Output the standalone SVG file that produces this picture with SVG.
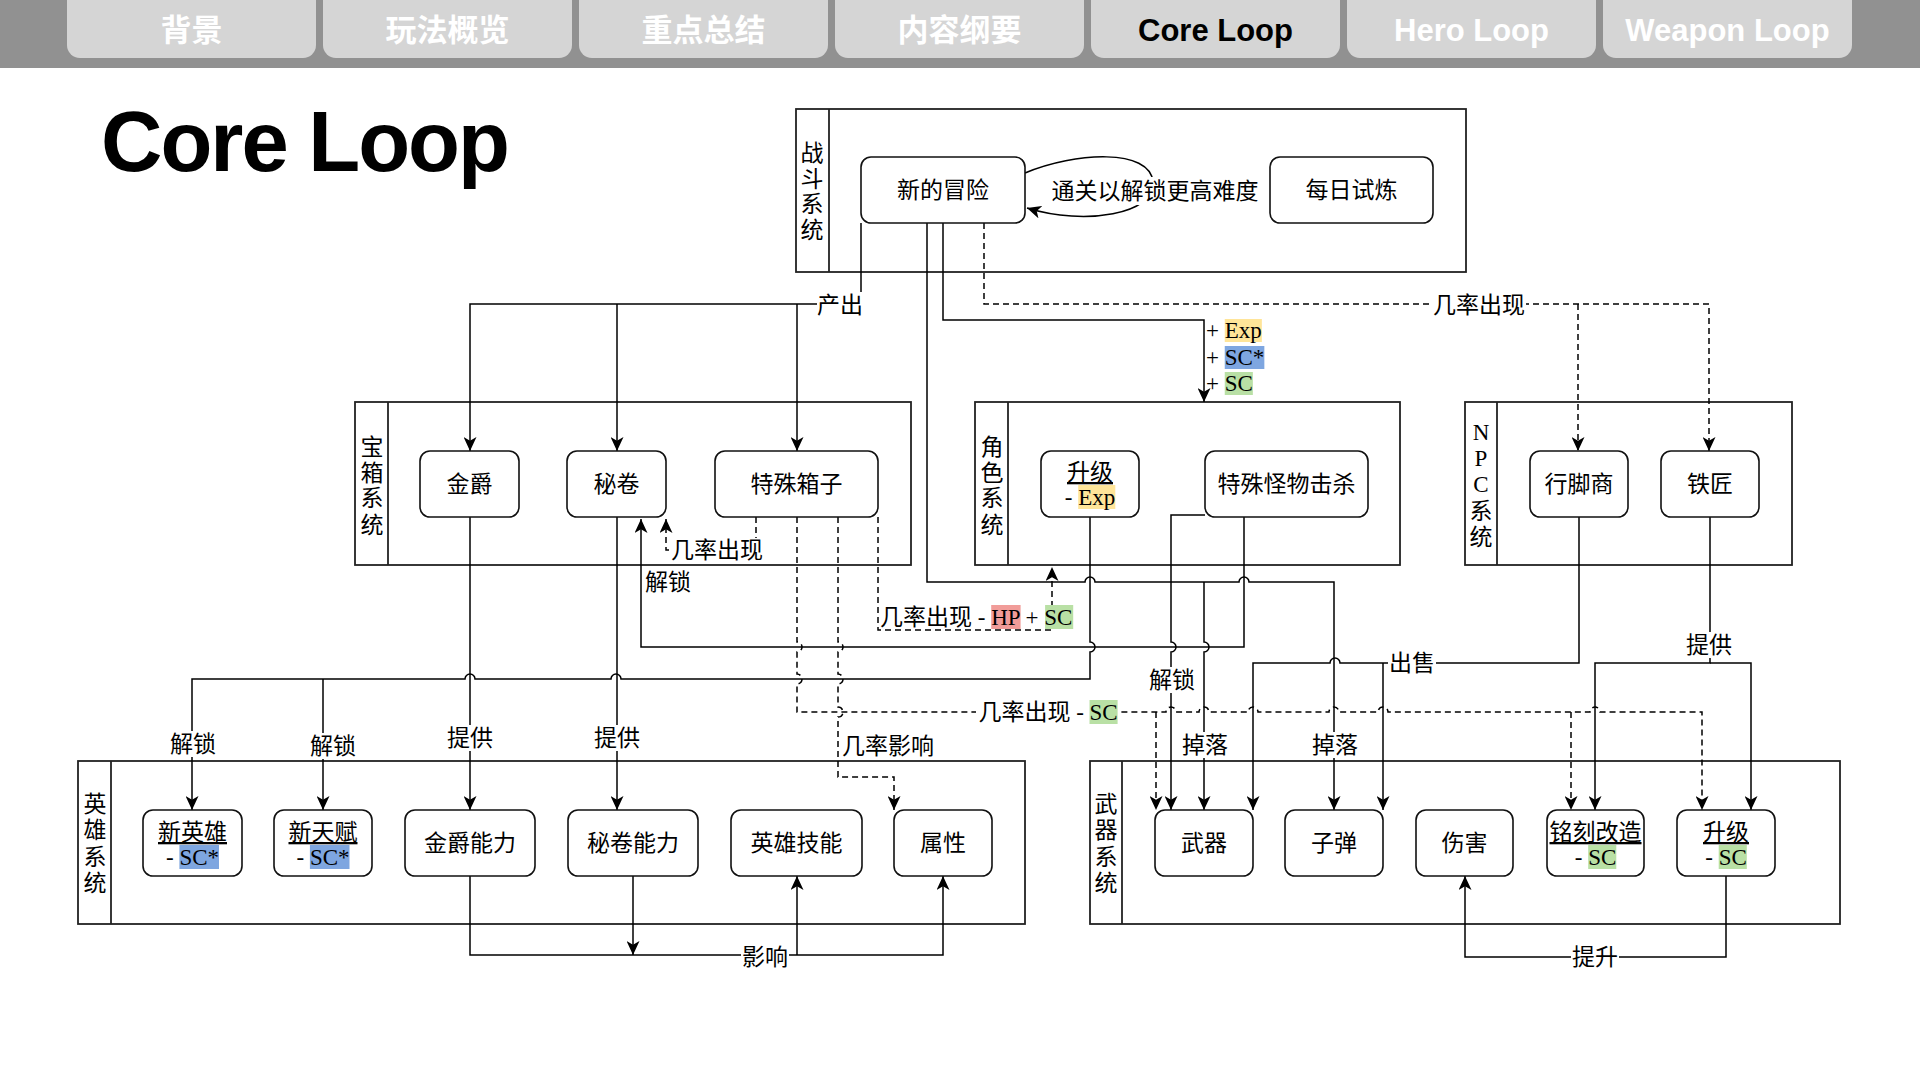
<svg xmlns="http://www.w3.org/2000/svg" width="1920" height="1080" viewBox="0 0 1920 1080">
<style>
.tab{fill:#d5d5d5}
.tt{font-family:"Liberation Sans","Noto Sans CJK SC",sans-serif;font-size:31px;font-weight:bold;fill:#fff;text-anchor:middle}
.tc{font-family:"Noto Sans CJK SC",sans-serif;font-size:31px;font-weight:bold;fill:#fff;text-anchor:middle}
.box{fill:none;stroke:#222;stroke-width:1.8}
.nd{fill:#fff;stroke:#111;stroke-width:1.6}
.e{fill:none;stroke:#000;stroke-width:1.5}
.d{stroke-dasharray:6 4}
.t{font-family:"Liberation Serif","Noto Sans CJK SC",serif;font-size:23px;fill:#000}
.m{text-anchor:middle}
.bg{fill:#fff}
.y{fill:#ffe599}.b{fill:#7ea6e0}.g{fill:#b9e0a5}.r{fill:#f19c99}
</style>
<defs>
<marker id="a" markerUnits="userSpaceOnUse" markerWidth="15" markerHeight="13" refX="14" refY="6.5" orient="auto">
<path d="M0,0 L14,6.5 L0,13 L3.8,6.5 Z" fill="#000"/>
</marker>
</defs>
<rect width="1920" height="1080" fill="#fff"/>
<g id="tabs">
<rect x="0" y="0" width="1920" height="68" fill="#919191"/>
<rect class="tab" x="67" y="-14" width="249" height="72" rx="13"/>
<rect class="tab" x="323" y="-14" width="249" height="72" rx="13"/>
<rect class="tab" x="579" y="-14" width="249" height="72" rx="13"/>
<rect class="tab" x="835" y="-14" width="249" height="72" rx="13"/>
<rect class="tab" x="1091" y="-14" width="249" height="72" rx="13"/>
<rect class="tab" x="1347" y="-14" width="249" height="72" rx="13"/>
<rect class="tab" x="1603" y="-14" width="249" height="72" rx="13"/>
<text class="tc" x="191.5" y="41">背景</text>
<text class="tc" x="447.5" y="41">玩法概览</text>
<text class="tc" x="703.5" y="41">重点总结</text>
<text class="tc" x="959.5" y="41">内容纲要</text>
<text class="tt" x="1215.5" y="41" style="fill:#000">Core Loop</text>
<text class="tt" x="1471.5" y="41">Hero Loop</text>
<text class="tt" x="1727.5" y="41">Weapon Loop</text>
</g>
<text x="101" y="171" font-family="Liberation Sans, sans-serif" font-size="85" font-weight="bold" letter-spacing="-2" fill="#000">Core Loop</text>

<g id="containers">
<g id="sys-battle"><rect class="box" x="796" y="109" width="670" height="163"/><line class="box" x1="829" y1="109" x2="829" y2="272"/>
<text class="t m"><tspan x="812" y="161">战</tspan><tspan x="812" y="187">斗</tspan><tspan x="812" y="212">系</tspan><tspan x="812" y="238">统</tspan></text></g>
<g id="sys-chest"><rect class="box" x="355" y="402" width="556" height="163"/><line class="box" x1="388" y1="402" x2="388" y2="565"/>
<text class="t m"><tspan x="372" y="455">宝</tspan><tspan x="372" y="481">箱</tspan><tspan x="372" y="506">系</tspan><tspan x="372" y="533">统</tspan></text></g>
<g id="sys-role"><rect class="box" x="975" y="402" width="425" height="163"/><line class="box" x1="1008" y1="402" x2="1008" y2="565"/>
<text class="t m"><tspan x="992" y="455">角</tspan><tspan x="992" y="481">色</tspan><tspan x="992" y="506">系</tspan><tspan x="992" y="533">统</tspan></text></g>
<g id="sys-npc"><rect class="box" x="1465" y="402" width="327" height="163"/><line class="box" x1="1497" y1="402" x2="1497" y2="565"/>
<text class="t m"><tspan x="1481" y="440">N</tspan><tspan x="1481" y="466">P</tspan><tspan x="1481" y="492">C</tspan><tspan x="1481" y="519">系</tspan><tspan x="1481" y="545">统</tspan></text></g>
<g id="sys-hero"><rect class="box" x="78" y="761" width="947" height="163"/><line class="box" x1="111" y1="761" x2="111" y2="924"/>
<text class="t m"><tspan x="95" y="812">英</tspan><tspan x="95" y="838">雄</tspan><tspan x="95" y="865">系</tspan><tspan x="95" y="891">统</tspan></text></g>
<g id="sys-weapon"><rect class="box" x="1090" y="761" width="750" height="163"/><line class="box" x1="1122" y1="761" x2="1122" y2="924"/>
<text class="t m"><tspan x="1106" y="812">武</tspan><tspan x="1106" y="838">器</tspan><tspan x="1106" y="865">系</tspan><tspan x="1106" y="891">统</tspan></text></g>
</g>

<g id="connectors">
<path class="e" d="M1025,173 C1075,152 1150,148 1153,182 C1156,214 1085,226 1027,208" marker-end="url(#a)"/>
<path class="e" d="M861,223 V304 H470 V451" marker-end="url(#a)"/>
<path class="e" d="M617,304 V451" marker-end="url(#a)"/>
<path class="e" d="M797,304 V451" marker-end="url(#a)"/>
<path class="e" d="M943,223 V320 H1204 V402" marker-end="url(#a)"/>
<path class="e" d="M927,223 V582 H1085 A5,5 0 0 1 1095,582 H1239 A5,5 0 0 1 1249,582 H1334 V810" marker-end="url(#a)"/>
<path class="e" d="M1204,582 V642 A5,5 0 0 1 1204,652 V810" marker-end="url(#a)"/>
<path class="e" d="M1090,517 V642 A5,5 0 0 1 1090,652 V679 H621 A5,5 0 0 0 611,679 H475 A5,5 0 0 0 465,679 H192 V810" marker-end="url(#a)"/>
<path class="e" d="M323,679 V810" marker-end="url(#a)"/>
<path class="e" d="M1244,517 V647 H641 V519" marker-end="url(#a)"/>
<path class="e" d="M1205,515 H1171 V642 A5,5 0 0 1 1171,652 V810" marker-end="url(#a)"/>
<path class="e" d="M1579,517 V663 H1340 A5,5 0 0 0 1330,663 H1253 V810" marker-end="url(#a)"/>
<path class="e" d="M1383,663 V810" marker-end="url(#a)"/>
<path class="e" d="M1710,517 V663 H1595 V810" marker-end="url(#a)"/>
<path class="e" d="M1710,663 H1751 V810" marker-end="url(#a)"/>
<path class="e d" d="M984,223 V304 H1709 V451" marker-end="url(#a)"/>
<path class="e d" d="M1578,304 V451" marker-end="url(#a)"/>
<path class="e d" d="M756,517 V550 H666 V519" marker-end="url(#a)"/>
<path class="e d" d="M878,517 V630 H1052 V567" marker-end="url(#a)"/>
<path class="e d" d="M797,517 V642 A5,5 0 0 1 797,652 V674 A5,5 0 0 1 797,684 V712 H1166 A5,5 0 0 1 1176,712 H1199 A5,5 0 0 1 1209,712 H1248 A5,5 0 0 1 1258,712 H1329 A5,5 0 0 1 1339,712 H1378 A5,5 0 0 1 1388,712 H1590 A5,5 0 0 1 1600,712 H1702 V810" marker-end="url(#a)"/>
<path class="e d" d="M1156,712 V810" marker-end="url(#a)"/>
<path class="e d" d="M1571,712 V810" marker-end="url(#a)"/>
<path class="e d" d="M838,517 V642 A5,5 0 0 1 838,652 V674 A5,5 0 0 1 838,684 V707 A5,5 0 0 1 838,717 V777 H894 V810" marker-end="url(#a)"/>
<path class="e" d="M470,517 V810" marker-end="url(#a)"/>
<path class="e" d="M617,517 V810" marker-end="url(#a)"/>
<path class="e" d="M470,876 V955 H943 V876" marker-end="url(#a)"/>
<path class="e" d="M797,955 V876" marker-end="url(#a)"/>
<path class="e" d="M633,876 V955" marker-end="url(#a)"/>
<path class="e" d="M1726,876 V957 H1465 V876" marker-end="url(#a)"/>

<rect class="bg" x="1051" y="177" width="209" height="28"/>
<text class="t m" x="1155" y="199">通关以解锁更高难度</text>
<rect class="bg" x="817" y="292" width="47" height="26"/>
<text class="t m" x="840" y="313">产出</text>
<rect class="bg" x="1432" y="292" width="94" height="26"/>
<text class="t m" x="1479" y="313">几率出现</text>
<rect class="y" x="1224.75" y="319" width="37.1" height="23"/>
<rect class="b" x="1224.75" y="346" width="39.6" height="23"/>
<rect class="g" x="1224.75" y="372" width="28.1" height="23"/>
<text class="t" x="1206" y="338">+ Exp</text>
<text class="t" x="1206" y="365">+ SC*</text>
<text class="t" x="1206" y="391">+ SC</text>
<rect class="bg" x="670" y="538" width="94" height="25"/>
<text class="t m" x="717" y="558">几率出现</text>
<text class="t" x="645" y="590">解锁</text>
<rect class="r" x="991.2" y="605" width="29.4" height="24"/>
<rect class="g" x="1045.1" y="605" width="28.1" height="24"/>
<text class="t" x="880" y="625">几率出现 - HP + SC</text>
<rect class="bg" x="1148" y="667" width="48" height="26"/>
<text class="t m" x="1172" y="688">解锁</text>
<rect class="bg" x="1388" y="650" width="48" height="26"/>
<text class="t m" x="1412" y="671">出售</text>
<rect class="bg" x="1685" y="632" width="48" height="26"/>
<text class="t m" x="1709" y="653">提供</text>
<rect class="bg" x="976" y="699" width="144" height="26"/>
<rect class="g" x="1089.5" y="700" width="28.1" height="24"/>
<text class="t" x="978.4" y="720">几率出现 - SC</text>
<rect class="bg" x="169" y="731" width="48" height="26"/>
<text class="t m" x="193" y="752">解锁</text>
<rect class="bg" x="309" y="733" width="48" height="26"/>
<text class="t m" x="333" y="754">解锁</text>
<rect class="bg" x="446" y="725" width="48" height="26"/>
<text class="t m" x="470" y="746">提供</text>
<rect class="bg" x="593" y="725" width="48" height="26"/>
<text class="t m" x="617" y="746">提供</text>
<text class="t" x="842" y="754">几率影响</text>
<rect class="bg" x="1181" y="732" width="48" height="26"/>
<text class="t m" x="1205" y="753">掉落</text>
<rect class="bg" x="1311" y="732" width="48" height="26"/>
<text class="t m" x="1335" y="753">掉落</text>
<rect class="bg" x="741" y="944" width="48" height="26"/>
<text class="t m" x="765" y="965">影响</text>
<rect class="bg" x="1571" y="944" width="48" height="26"/>
<text class="t m" x="1595" y="965">提升</text>
</g>

<g id="n-adventure"><rect class="nd" x="861" y="157" width="164" height="66" rx="10"/><text class="t m" x="943" y="198">新的冒险</text></g>
<g id="n-daily"><rect class="nd" x="1270" y="157" width="163" height="66" rx="10"/><text class="t m" x="1351.5" y="198">每日试炼</text></g>
<g id="n-gold"><rect class="nd" x="420" y="451" width="99" height="66" rx="10"/><text class="t m" x="469.5" y="492">金爵</text></g>
<g id="n-scroll"><rect class="nd" x="567" y="451" width="99" height="66" rx="10"/><text class="t m" x="616.5" y="492">秘卷</text></g>
<g id="n-specialbox"><rect class="nd" x="715" y="451" width="163" height="66" rx="10"/><text class="t m" x="796.5" y="492">特殊箱子</text></g>
<g id="n-rolelevel"><rect class="nd" x="1041" y="451" width="98" height="66" rx="10"/>
<text class="t m" x="1090" y="480" text-decoration="underline">升级</text>
<rect class="y" x="1078.2" y="485" width="37.1" height="24"/>
<text class="t" x="1064.75" y="505">- Exp</text></g>
<g id="n-monster"><rect class="nd" x="1205" y="451" width="163" height="66" rx="10"/><text class="t m" x="1286.5" y="492">特殊怪物击杀</text></g>
<g id="n-merchant"><rect class="nd" x="1530" y="451" width="98" height="66" rx="10"/><text class="t m" x="1579" y="492">行脚商</text></g>
<g id="n-smith"><rect class="nd" x="1661" y="451" width="98" height="66" rx="10"/><text class="t m" x="1710" y="492">铁匠</text></g>
<g id="n-newhero"><rect class="nd" x="143" y="810" width="99" height="66" rx="10"/>
<text class="t m" x="192.5" y="840" text-decoration="underline">新英雄</text>
<rect class="b" x="179.4" y="845" width="39.6" height="24"/>
<text class="t" x="166" y="865">- SC*</text></g>
<g id="n-newtalent"><rect class="nd" x="274" y="810" width="98" height="66" rx="10"/>
<text class="t m" x="323" y="840" text-decoration="underline">新天赋</text>
<rect class="b" x="309.9" y="845" width="39.6" height="24"/>
<text class="t" x="296.5" y="865">- SC*</text></g>
<g id="n-goldability"><rect class="nd" x="405" y="810" width="130" height="66" rx="10"/><text class="t m" x="470" y="851">金爵能力</text></g>
<g id="n-scrollability"><rect class="nd" x="568" y="810" width="130" height="66" rx="10"/><text class="t m" x="633" y="851">秘卷能力</text></g>
<g id="n-heroskill"><rect class="nd" x="731" y="810" width="131" height="66" rx="10"/><text class="t m" x="796.5" y="851">英雄技能</text></g>
<g id="n-attr"><rect class="nd" x="894" y="810" width="98" height="66" rx="10"/><text class="t m" x="943" y="851">属性</text></g>
<g id="n-weapon"><rect class="nd" x="1155" y="810" width="98" height="66" rx="10"/><text class="t m" x="1204" y="851">武器</text></g>
<g id="n-bullet"><rect class="nd" x="1285" y="810" width="98" height="66" rx="10"/><text class="t m" x="1334" y="851">子弹</text></g>
<g id="n-damage"><rect class="nd" x="1416" y="810" width="97" height="66" rx="10"/><text class="t m" x="1464.5" y="851">伤害</text></g>
<g id="n-engrave"><rect class="nd" x="1547" y="810" width="97" height="66" rx="10"/>
<text class="t m" x="1595.5" y="840" text-decoration="underline">铭刻改造</text>
<rect class="g" x="1588.2" y="845" width="28.1" height="24"/>
<text class="t" x="1574.75" y="865">- SC</text></g>
<g id="n-weaponlevel"><rect class="nd" x="1677" y="810" width="98" height="66" rx="10"/>
<text class="t m" x="1726" y="840" text-decoration="underline">升级</text>
<rect class="g" x="1718.7" y="845" width="28.1" height="24"/>
<text class="t" x="1705.25" y="865">- SC</text></g>
</svg>
